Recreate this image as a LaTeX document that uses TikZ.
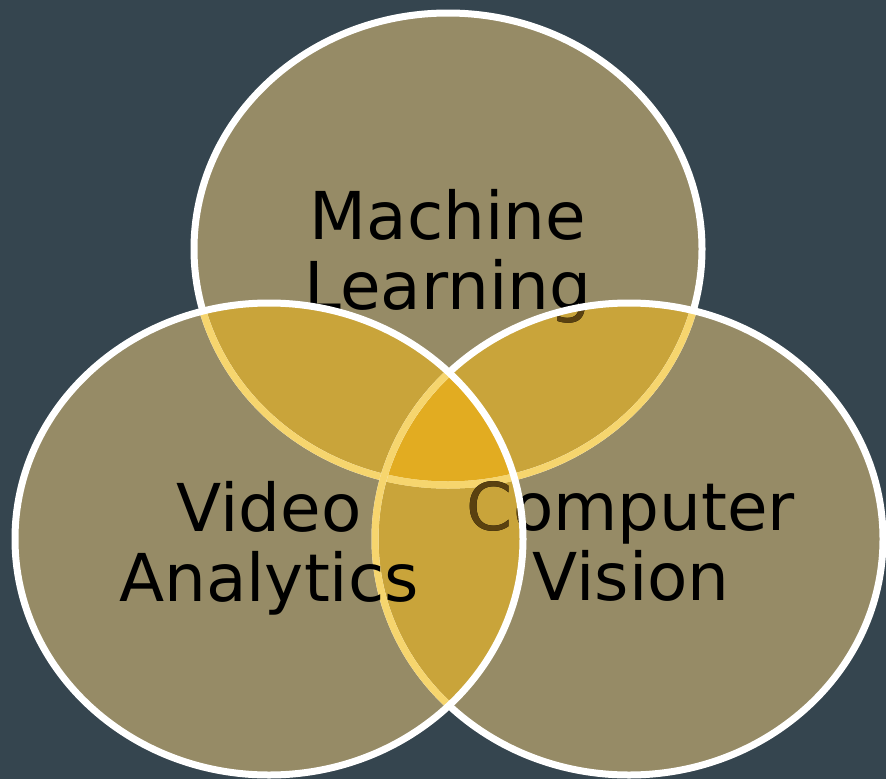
\documentclass[tikz,border=0pt]{standalone}
\usepackage{fontspec}
\setmainfont{DejaVu Sans}
\usepackage{xcolor}
\usetikzlibrary{positioning}

\definecolor{slate}{HTML}{35454F}
\definecolor{olive}{HTML}{968B66}
\definecolor{gold}{HTML}{C9A43A}
\definecolor{deepgold}{HTML}{E2AC21}
\definecolor{paleline}{HTML}{F6D56E}
\definecolor{hidtext}{HTML}{5A4110}

\newcommand{\mltext}{Machine\\Learning}
\newcommand{\vatext}{Video\\Analytics}
\newcommand{\cvtext}{Computer\\Vision}

\begin{document}
\begin{tikzpicture}[x=1pt, y=-1pt,
    venn/.style={x radius=254, y radius=236},
    rim/.style={draw=white, line width=7pt},
    hidrim/.style={draw=paleline, line width=7pt},
    label/.style={font=\fontsize{66}{70}\selectfont, align=center, inner sep=0pt}]
    \fill[slate] (0, 0) rectangle (886, 779);
    \useasboundingbox (0, 0) rectangle (886, 779);
    \coordinate (mlc) at (448, 249);
    \coordinate (vac) at (269, 539);
    \coordinate (cvc) at (629, 539);
    % plain regions
    \fill[olive] (mlc) ellipse[venn] (vac) ellipse[venn] (cvc) ellipse[venn];
    % overlaps
    \begin{scope}
        \clip (mlc) ellipse[venn];
        \fill[gold] (vac) ellipse[venn] (cvc) ellipse[venn];
    \end{scope}
    \begin{scope}
        \clip (vac) ellipse[venn];
        \fill[gold] (cvc) ellipse[venn];
        \clip (mlc) ellipse[venn];
        \fill[deepgold] (cvc) ellipse[venn];
    \end{scope}
    % machine learning
    \node[label] (ml) at (448, 256) {\mltext};
    \draw[rim] (mlc) ellipse[venn];
    \foreach \c in {vac, cvc} {
        \begin{scope}
            \clip (\c) ellipse[venn];
            \draw[hidrim] (mlc) ellipse[venn];
            \node[label, text=hidtext] (mlhid) at (448, 256) {\mltext};
        \end{scope}
    }
    % computer vision
    \node[label] (cv) at (631, 541) {\cvtext};
    \draw[rim] (cvc) ellipse[venn];
    \begin{scope}
        \clip (vac) ellipse[venn];
        \draw[hidrim] (cvc) ellipse[venn];
        \node[label, text=hidtext] (cvhid) at (631, 541) {\cvtext};
    \end{scope}
    % video analytics
    \node[label] (va) at (269, 548) {\vatext};
    \draw[rim] (vac) ellipse[venn];
\end{tikzpicture}
\end{document}
